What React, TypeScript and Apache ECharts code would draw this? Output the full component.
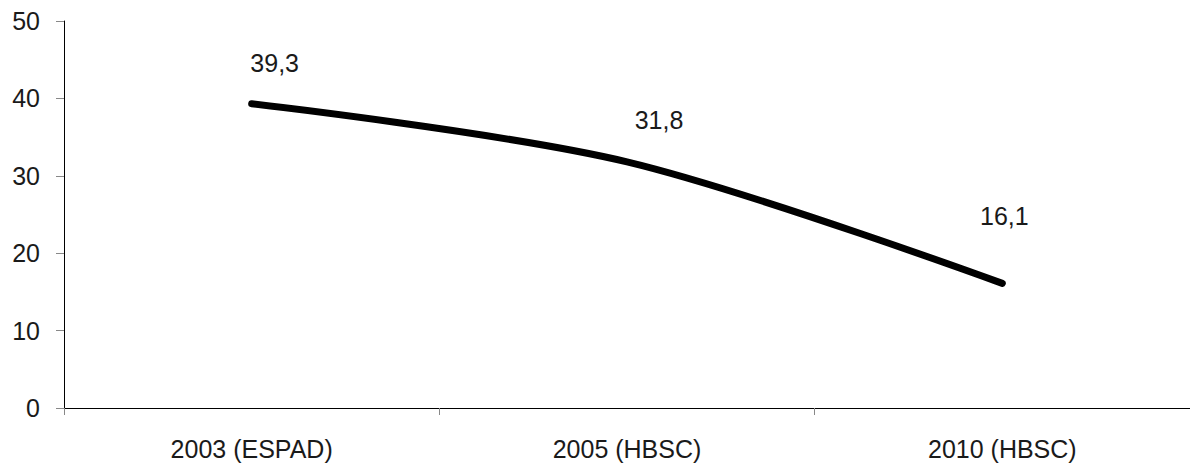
import React, { useEffect, useRef } from "react";
import * as echarts from "echarts";

// Survey waves and share values (%)
const categories = ["2003 (ESPAD)", "2005 (HBSC)", "2010 (HBSC)"];
const values = [39.3, 31.8, 16.1];
const valueLabels = ["39,3", "31,8", "16,1"];
// Label offsets [dx, dy] for each value label
const labelOffsets = [
  [23, -28],
  [32, -29],
  [2, -54],
];
const yTicks = { min: 0, max: 50, interval: 10 };

const FONT = "'Liberation Sans', Arial, Helvetica, sans-serif";
const TEXT_COLOR = "#1a1a1a";

export default function App() {
  const ref = useRef<HTMLDivElement>(null);

  useEffect(() => {
    if (!ref.current) return;
    const chart = echarts.init(ref.current, undefined, { renderer: "svg" });
    chart.setOption({
      animation: false,
      backgroundColor: "#ffffff",
      grid: { left: 64, right: -8, top: 21, bottom: 55, containLabel: false },
      xAxis: {
        type: "category",
        data: categories,
        boundaryGap: true,
        axisLine: { show: true, lineStyle: { color: "#000", width: 1 } },
        axisTick: { show: true, length: 7, lineStyle: { color: "#888" }, alignWithLabel: false },
        axisLabel: {
          color: TEXT_COLOR,
          fontSize: 25,
          fontFamily: FONT,
          margin: 28,
        },
        splitLine: { show: false },
      },
      yAxis: {
        type: "value",
        min: yTicks.min,
        max: yTicks.max,
        interval: yTicks.interval,
        axisLine: { show: true, lineStyle: { color: "#000", width: 1 } },
        axisTick: { show: true, length: 8, lineStyle: { color: "#888" } },
        axisLabel: {
          color: TEXT_COLOR,
          fontSize: 25,
          fontFamily: FONT,
          margin: 24,
        },
        splitLine: { show: false },
      },
      series: [
        {
          type: "line",
          data: values.map((v, i) => ({
            value: v,
            label: {
              show: true,
              position: "top",
              offset: labelOffsets[i],
              formatter: valueLabels[i],
            },
          })),
          smooth: 0.32,
          showSymbol: true,
          symbol: "circle",
          symbolSize: 1,
          itemStyle: { color: "rgba(0,0,0,0)", borderWidth: 0 },
          lineStyle: { color: "#000", width: 7, cap: "round", join: "round" },
          label: {
            show: true,
            color: TEXT_COLOR,
            fontSize: 25,
            fontFamily: FONT,
            distance: 0,
          },
        },
      ],
    });
    return () => chart.dispose();
  }, []);

  return (
    <div
      ref={ref}
      style={{ position: "absolute", left: 0, top: 0, width: 1190, height: 463 }}
    />
  );
}
